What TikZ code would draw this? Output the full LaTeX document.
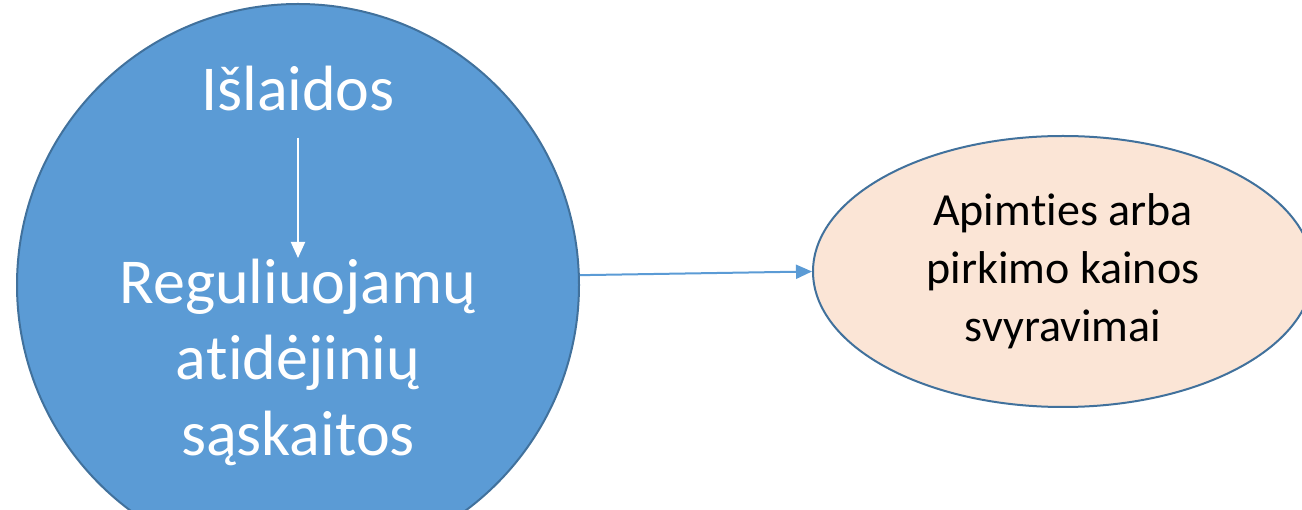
\documentclass[tikz,border=0pt]{standalone}
\usepackage{fontspec}
\setmainfont{Carlito}
\usetikzlibrary{arrows.meta,shapes.geometric,positioning}
\definecolor{officeblue}{HTML}{5B9BD5}
\definecolor{officeedge}{HTML}{41719C}
\definecolor{peach}{HTML}{FBE5D6}

\begin{document}
\begin{tikzpicture}[x=1pt,y=-1pt,>={Triangle[length=16pt,width=14pt]},
    bigtext/.style={text=white,font=\fontsize{64}{76}\selectfont,align=center,inner sep=0pt},
    smalltext/.style={font=\fontsize{46}{58}\selectfont,align=center,inner sep=0pt}]
  \useasboundingbox (0,0) rectangle (1302,510);
  \clip (0,0) rectangle (1302,510);
  \node (C) [circle, draw=officeedge, fill=officeblue, line width=2pt,
    minimum size=562pt, inner sep=0pt] at (298,285) {};
  \node (T) [bigtext, anchor=base] at (298,111) {Išlaidos};
  % boxed t keeps t and i apart (no ligature)
  \node (R) [bigtext, anchor=north] at (298,259) {Reguliuojamų\\a\hbox{t}idėjinių\\sąskaitos};
  \node (D) [ellipse, draw=officeedge, fill=peach, line width=2pt,
    minimum width=500pt, minimum height=271pt, smalltext] at (1063,271.5)
    {Apim\hbox{t}ies arba\\pirkimo kainos\\svyravimai};
  \draw[->, white, line width=2pt, shorten <=26pt, shorten >=1pt] (T.south) -- (R.north);
  \draw[->, officeblue, line width=2pt] (C.2) -- (D.west);
\end{tikzpicture}
\end{document}
